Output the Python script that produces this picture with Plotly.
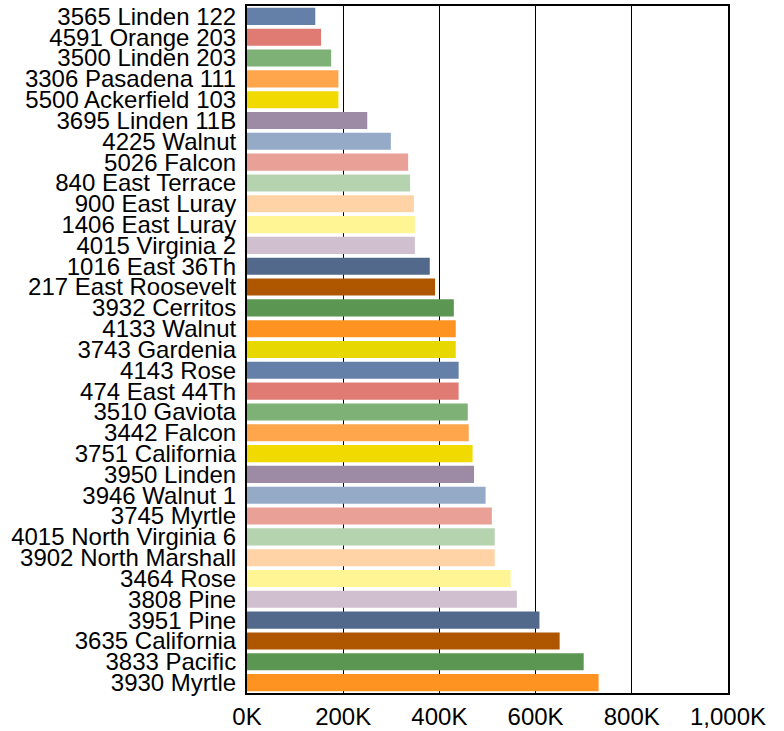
import plotly.graph_objects as go

addresses = [
    "3565 Linden 122", "4591 Orange 203", "3500 Linden 203", "3306 Pasadena 111",
    "5500 Ackerfield 103", "3695 Linden 11B", "4225 Walnut", "5026 Falcon",
    "840 East Terrace", "900 East Luray", "1406 East Luray", "4015 Virginia 2",
    "1016 East 36Th", "217 East Roosevelt", "3932 Cerritos", "4133 Walnut",
    "3743 Gardenia", "4143 Rose", "474 East 44Th", "3510 Gaviota",
    "3442 Falcon", "3751 California", "3950 Linden", "3946 Walnut 1",
    "3745 Myrtle", "4015 North Virginia 6", "3902 North Marshall", "3464 Rose",
    "3808 Pine", "3951 Pine", "3635 California", "3833 Pacific", "3930 Myrtle",
]
values = [
    142000, 154000, 175000, 190000, 190000, 250000, 299000, 335000,
    339000, 347000, 349000, 349000, 380000, 391000, 430000, 434000,
    434000, 440000, 440000, 459000, 461000, 469000, 472000, 496000,
    509000, 515000, 515000, 548000, 561000, 608000, 650000, 700000, 731000,
]
palette = [
    "#6480A8", "#E07B74", "#7DB175", "#FFA64C", "#F0DA00", "#9D8BA5",
    "#94AAC7", "#E8A097", "#B5D3AF", "#FFD3A6", "#FFF595", "#CFBFCF",
    "#52698C", "#AE5500", "#5B9752", "#FF9322", "#E6D800",
]
tick_values = [0, 200000, 400000, 600000, 800000, 1000000]
tick_labels = ["0K", "200K", "400K", "600K", "800K", "1,000K"]

colors = [palette[i % len(palette)] for i in range(len(addresses))]

fig = go.Figure(go.Bar(
    x=values, y=addresses, orientation="h",
    marker=dict(color=colors, line=dict(width=0)),
    hoverinfo="x+y",
))

fig.update_layout(
    width=784, height=731,
    margin=dict(l=247, r=56, t=6, b=38),
    paper_bgcolor="white", plot_bgcolor="white",
    font=dict(family="Liberation Sans, Arial, sans-serif", size=24, color="black"),
    bargap=0.18,
    showlegend=False,
)
fig.update_xaxes(
    range=[0, 1000000], tickmode="array", tickvals=tick_values, ticktext=tick_labels,
    showgrid=True, gridcolor="black", gridwidth=1,
    showline=True, linecolor="black", linewidth=2, mirror=True,
    zeroline=False, ticks="", ticklabelstandoff=1, automargin=False,
)
fig.update_yaxes(
    autorange="reversed", type="category",
    tickmode="array", tickvals=addresses, ticktext=addresses,
    showgrid=False, showline=True, linecolor="black", linewidth=2, mirror=True,
    ticks="", ticklabelstandoff=4, automargin=False,
)

fig.write_html(
    "out.html",
    config={"displayModeBar": False},
    post_script="document.body.style.margin='0';document.body.style.overflow='hidden';",
)
